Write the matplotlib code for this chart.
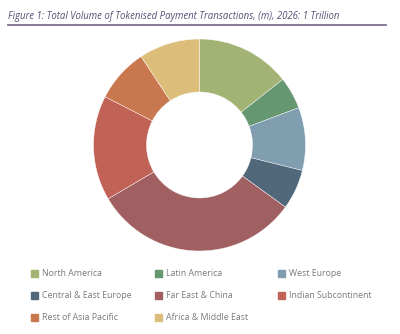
import matplotlib.pyplot as plt
from matplotlib.patches import Rectangle
from matplotlib.lines import Line2D

plt.rcParams["font.family"] = ["Open Sans", "DejaVu Sans"]

# segment shares (%), read clockwise from 12 o'clock
regions = ["North America", "Latin America", "West Europe",
           "Central & East Europe", "Far East & China", "Indian Subcontinent",
           "Rest of Asia Pacific", "Africa & Middle East"]
shares = [14.4, 4.9, 9.6, 6.1, 31.6, 16.0, 8.2, 9.3]
colours = ["#a3b373", "#659771", "#809eaf", "#51687a",
           "#a06062", "#c06255", "#c8774e", "#dcbd7a"]

title = "Figure 1: Total Volume of Tokenised Payment Transactions, (m), 2026: 1 Trillion"

fig = plt.figure(figsize=(4, 3.34), dpi=100)
W, H = 400, 334

# title and rule
fig.text(8 / W, 1 - 16 / H, title, fontsize=6.9, style="italic",
         color="#5b4d78", va="center", ha="left")
fig.add_artist(Line2D([8 / W, 386 / W], [1 - 25 / H, 1 - 25 / H],
                      color="#7d6e93", lw=1.3, transform=fig.transFigure))

# donut
cx, cy, r = 199.5, 145, 106
ax = fig.add_axes([(cx - r) / W, 1 - (cy + r) / H, 2 * r / W, 2 * r / H])
ax.pie(shares, colors=colours, startangle=90, counterclock=False,
       wedgeprops=dict(width=0.5, edgecolor="white", linewidth=0.3))
ax.set_xlim(-1, 1)
ax.set_ylim(-1, 1)
ax.set_aspect("equal")
ax.axis("off")

# legend grid
col_x = [31, 155, 278]
row_y = [273, 295, 317]
for i, (name, c) in enumerate(zip(regions, colours)):
    x = col_x[i % 3]
    y = row_y[i // 3]
    fig.add_artist(Rectangle((x / W, 1 - (y + 3.5) / H), 7 / W, 7 / H,
                             color=c, transform=fig.transFigure))
    fig.text((x + 11) / W, 1 - y / H, name, fontsize=6.3, color="#7a7a7a",
             va="center", ha="left")

fig.savefig("out.png", dpi=100)
